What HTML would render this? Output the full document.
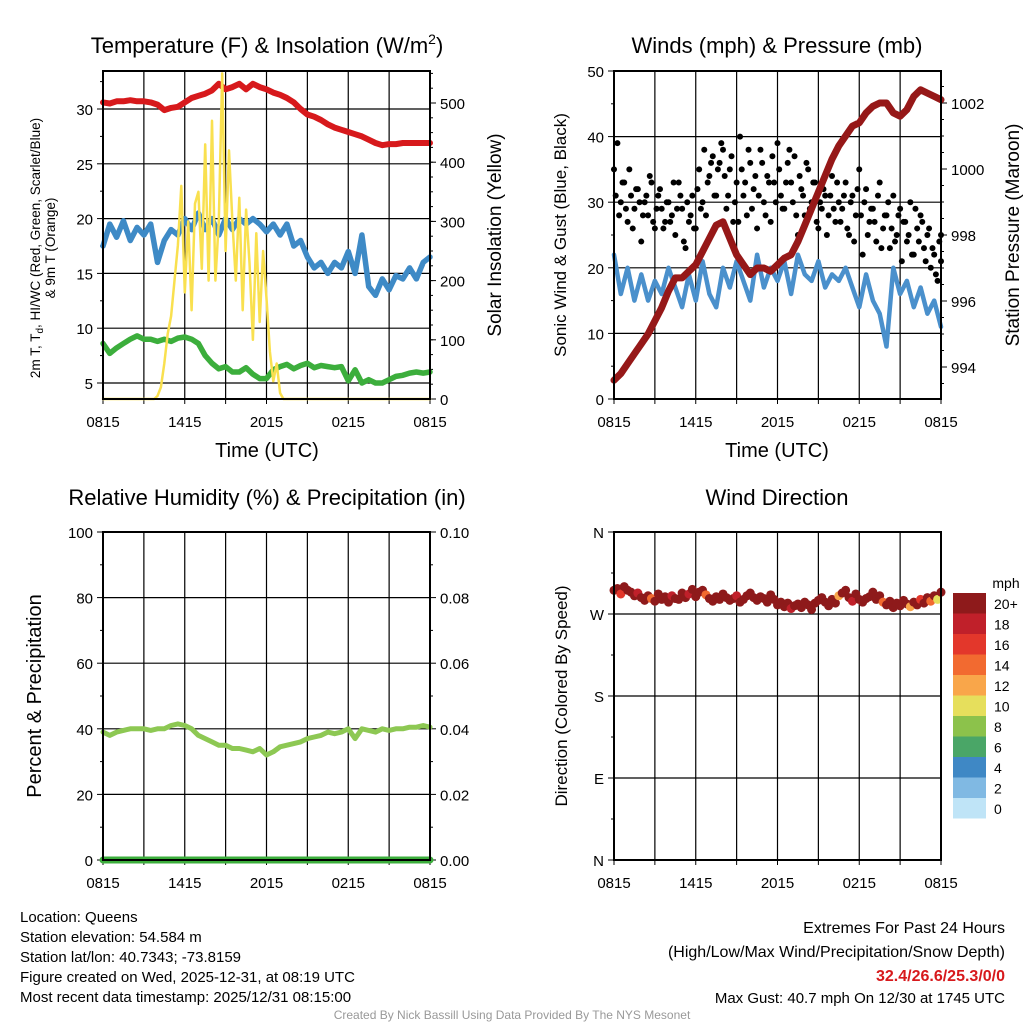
<!DOCTYPE html>
<html><head><meta charset="utf-8"><style>
html,body{margin:0;padding:0;background:#fff;}
svg{display:block;font-family:"Liberation Sans",Arial,sans-serif;}
</style></head><body>
<svg id="c" width="1024" height="1024" viewBox="0 0 1024 1024"></svg>
<script>
const xTickLabels=["0815","1415","2015","0215","0815"];
const tempRed=[30.6,30.5,30.7,30.7,30.8,30.7,30.7,30.6,30.4,29.9,30.1,30.2,30.6,31.0,31.2,31.4,31.7,32.3,31.8,32.0,32.3,31.8,32.3,32.0,31.8,31.5,31.3,31.0,30.6,30.0,29.5,29.3,29.0,28.6,28.3,28.1,27.9,27.7,27.5,27.2,26.9,26.7,26.8,26.8,26.9,26.9,26.9,26.9,26.9];
const hiwcBlue=[17.5,19.5,18.3,19.8,18.0,19.2,18.5,19.5,16.0,18.0,19.0,18.5,20.0,19.0,20.5,19.0,20.0,18.5,20.0,19.0,20.0,19.5,20.0,19.5,18.8,19.5,18.5,19.5,17.5,18.0,16.5,15.5,16.0,15.0,16.0,15.5,17.0,15.0,18.5,13.8,13.0,14.5,13.5,14.8,14.5,15.5,14.5,16.0,16.5];
const dewGreen=[8.6,7.7,8.2,8.6,9.0,9.3,9.0,9.0,8.8,9.0,8.8,9.1,9.2,9.0,8.6,7.5,6.8,6.3,6.5,6.0,6.0,6.4,5.8,5.4,5.4,6.2,6.5,6.7,6.3,6.6,6.8,6.4,6.6,6.5,6.4,6.5,5.2,6.2,5.0,5.3,5.0,5.0,5.3,5.6,5.7,5.9,6.0,5.9,6.0];
const solar=[0,0,0,0,0,0,0,0,0,0,0,0,0,0,0,0,5,20,60,110,140,200,260,360,180,300,150,330,350,220,430,200,470,200,300,550,250,420,300,200,340,150,320,230,100,280,130,250,170,80,30,60,10,0,0,0,0,0,0,0,0,0,0,0,0,0,0,0,0,0,0,0,0,0,0,0,0,0,0,0,0,0,0,0,0,0,0,0,0,0,0,0,0,0,0,0,0];
const windBlue=[22,16,20,15,19,15,18,16,20,17,14,19,15,21,16,14,20,17,21,18,15,22,17,20,18,21,16,22,19,18,21,17,19,18,20,17,14,19,15,13,8,20,16,18,14,17,13,15,11];
const gustA=[35,39,30,33,27,31,29,32,24,30,28,33,26,31,29,27,30,28,25,33,29,23,27,31,26,35,30,28,34,37,31,36,38,29,35,27,33,40,31,28,36,32,26,38,30,34,27,33,39,31,29,36,33,37,25,32,28,35,30,33,26,29,31,28,34,27,30,29,33,25,31,28,35,22,32,27,29,24,33,26,28,23,31,25,29,27,24,30,22,26,28,23,25,20,22,18,25];
const gustB=[31,28,33,29,35,26,32,30,28,31,34,27,29,32,26,30,27,33,29,31,24,30,28,26,32,29,38,33,36,31,35,39,34,31,37,30,27,35,33,38,29,34,31,36,28,33,37,30,35,29,33,38,30,28,34,31,36,29,33,27,30,32,25,31,29,33,27,31,26,30,24,32,28,30,25,29,27,31,23,28,30,26,24,28,21,27,25,22,29,24,27,21,26,23,19,24,21];
const pressure=[993.6,993.8,994.1,994.4,994.7,995.0,995.4,995.8,996.3,996.7,996.7,996.9,997.1,997.5,997.9,998.3,998.4,997.9,997.4,997.1,996.8,997.0,997.0,996.9,997.1,997.3,997.4,997.8,998.3,998.8,999.3,999.8,1000.3,1000.7,1001.0,1001.3,1001.4,1001.7,1001.9,1002.0,1002.0,1001.7,1001.6,1001.8,1002.2,1002.4,1002.3,1002.2,1002.1];
const rh=[39,38,39,39.5,40,40,40,39.5,40,40,41,41.5,41,40,38,37,36,35,35,34,34,33.5,33,34,32,33,34.5,35,35.5,36,37,37.5,38,39,38.5,39,40,37,40,39.5,39,40,39.5,40,40,40.5,40.5,41,40.5];
const precip=[0,0,0,0,0,0,0,0,0,0,0,0,0,0,0,0,0,0,0,0,0,0,0,0,0,0,0,0,0,0,0,0,0,0,0,0,0,0,0,0,0,0,0,0,0,0,0,0,0];
const windDir=[296,298,292,300,296,294,290,293,288,285,290,287,284,292,286,289,283,290,287,286,293,288,292,297,289,294,296,291,287,284,289,286,292,288,285,287,290,283,286,290,293,288,285,289,287,283,291,286,280,283,278,282,276,279,281,277,283,280,275,282,285,288,283,279,286,282,290,293,296,288,284,292,286,283,287,289,294,286,290,283,280,284,277,282,279,285,281,278,283,280,286,282,288,284,290,286,294];
const dirSpeed=[21,24,17,22,26,20,23,19,25,22,28,15,21,24,20,27,22,19,25,21,24,22,18,26,23,21,25,14,22,24,20,23,26,21,24,22,19,25,23,21,27,22,24,20,23,25,21,22,24,26,21,23,19,22,25,24,21,23,22,20,24,22,26,21,23,25,13,22,24,21,18,23,25,22,24,21,20,23,22,15,24,21,23,22,25,21,24,12,22,23,17,21,24,14,22,11,21];
const cbLabels=["20+","18","16","14","12","10","8","6","4","2","0"];
const cbColors=["#8e1a1b","#c0202a","#e3372b","#f26a30","#f9a64a","#e6df5c","#8cc24b","#4aa667","#3f88c5","#80b9e3","#bfe4f7"];

const NS="http://www.w3.org/2000/svg";
const svg=document.getElementById('c');
function el(tag,attrs,parent,text){const e=document.createElementNS(NS,tag);for(const k in attrs)e.setAttribute(k,attrs[k]);if(text!==undefined)e.textContent=text;(parent||svg).appendChild(e);return e;}
function txt(x,y,s,size,anchor,name,extra){const t=el('text',Object.assign({x:x,y:y,'font-size':size,'text-anchor':anchor||'middle',fill:'#000'},extra||{}),svg,s);

return t;}
function lin(d0,d1,p0,p1){return v=>p0+(v-d0)*(p1-p0)/(d1-d0);}

function panel(L,R,T,B,name){
  const g=el('g',{});
  
  
  const xs=lin(0,24,L,R);
  for(let h=3;h<24;h+=3){el('line',{x1:xs(h),x2:xs(h),y1:T,y2:B,stroke:'#000','stroke-width':1.2},g);}
  for(let h=0;h<=24;h+=3){el('line',{x1:xs(h),x2:xs(h),y1:B,y2:B+5,stroke:'#000','stroke-width':1},g);}
  for(let k=0;k<5;k++){txt(xs(k*6),B+28,xTickLabels[k],15,'middle','x-tick-label');}
  return {g,xs};
}
function frame(L,R,T,B){const r=el('rect',{x:L,y:T,width:R-L,height:B-T,fill:'none',stroke:'#000','stroke-width':2});

}
function yAxis(g,x,side,ys,ticks,minor,labels,fs){
  const dir=side==='left'?-1:1;
  minor.forEach(v=>el('line',{x1:x,x2:x+dir*3,y1:ys(v),y2:ys(v),stroke:'#000'},g));
  ticks.forEach((v,i)=>{el('line',{x1:x,x2:x+dir*6,y1:ys(v),y2:ys(v),stroke:'#000'},g);
    txt(x+dir*10,ys(v)+6,labels[i],fs||15,side==='left'?'end':'start','y-tick-label');});
}
function hgrid(g,L,R,ys,vals){vals.forEach(v=>el('line',{x1:L,x2:R,y1:ys(v),y2:ys(v),stroke:'#000','stroke-width':1.2},g));}
function path(g,arr,xs,ys,n,color,w,name){
  let d='';arr.forEach((v,i)=>{d+=(i?'L':'M')+xs(i*24/(n-1)).toFixed(1)+','+ys(v).toFixed(1);});
  const p=el('path',{d:d,fill:'none',stroke:color,'stroke-width':w,'stroke-linejoin':'round','stroke-linecap':'round'},g);
  
  
}

// Panel 1
{const L=103,R=430,T=71,B=399;const {g,xs}=panel(L,R,T,B,'temperature-panel');
 const ys=lin(5,30,383,109);const yr=lin(0,500,399,103);
 hgrid(g,L,R,ys,[5,10,15,20,25,30]);
 yAxis(g,L,'left',ys,[5,10,15,20,25,30],[7.5,12.5,17.5,22.5,27.5,32.5],["5","10","15","20","25","30"]);
 const rm=[];for(let v=25;v<=550;v+=25)rm.push(v);
 yAxis(g,R,'right',yr,[0,100,200,300,400,500],rm,["0","100","200","300","400","500"]);
 path(g,dewGreen,xs,ys,49,'#3cae3c',5.5,'dewpoint-line');
 path(g,hiwcBlue,xs,ys,49,'#3e8ac6',5.5,'heat-index-line');
 path(g,tempRed,xs,ys,49,'#d7191c',6,'temperature-line');
 path(g,solar,xs,yr,97,'#f9e04f',2.5,'solar-line');
 frame(L,R,T,B);
 txt(267,53,'',22,'middle','panel-title').innerHTML='Temperature (F) &amp; Insolation (W/m<tspan font-size="14" dy="-9">2</tspan><tspan dy="9">)</tspan>';
 txt(0,0,'',13.5,'middle','y-axis-title',{transform:'translate(40,248) rotate(-90)'}).innerHTML='2m T, T<tspan font-size="10" dy="3">d</tspan><tspan dy="-3">, HI/WC (Red, Green, Scarlet/Blue)</tspan>';
 txt(0,0,'& 9m T (Orange)',13.5,'middle','y-axis-title-line2',{transform:'translate(55,248) rotate(-90)'});
 txt(0,0,'Solar Insolation (Yellow)',19,'middle','y2-axis-title',{transform:'translate(501,235) rotate(-90)'});
 txt(267,457,'Time (UTC)',20,'middle','x-axis-title');
}
// Panel 2
{const L=614,R=941,T=71,B=399;const {g,xs}=panel(L,R,T,B,'winds-panel');
 const ys=lin(0,50,399,71);const yp=lin(994,1002,367,103);
 hgrid(g,L,R,ys,[10,20,30,40]);
 yAxis(g,L,'left',ys,[0,10,20,30,40,50],[5,15,25,35,45],["0","10","20","30","40","50"]);
 yAxis(g,R,'right',yp,[994,996,998,1000,1002],[993.5,994.5,995,995.5,996.5,997,997.5,998.5,999,999.5,1000.5,1001,1001.5,1002.5],["994","996","998","1000","1002"]);
 path(g,windBlue,xs,ys,49,'#4a90cc',4.5,'wind-line');
 [gustA,gustB].forEach((arr,k)=>arr.forEach((v,i)=>{const c=el('circle',{cx:xs(Math.min(24,(i+k*0.5)*24/96)),cy:ys(v),r:3,fill:'#000'},g);
  
  }));
 path(g,pressure,xs,yp,49,'#961818',7,'pressure-line');
 frame(L,R,T,B);
 txt(777,53,'Winds (mph) & Pressure (mb)',22,'middle','panel-title');
 txt(0,0,'Sonic Wind & Gust (Blue, Black)',17,'middle','y-axis-title',{transform:'translate(566,235) rotate(-90)'});
 txt(0,0,'Station Pressure (Maroon)',19,'middle','y2-axis-title',{transform:'translate(1019,235) rotate(-90)'});
 txt(777,457,'Time (UTC)',20,'middle','x-axis-title');
}
// Panel 3
{const L=103,R=430,T=532,B=860;const {g,xs}=panel(L,R,T,B,'humidity-panel');
 const ys=lin(0,100,860,532);const yr=lin(0,0.1,860,532);
 hgrid(g,L,R,ys,[20,40,60,80]);
 yAxis(g,L,'left',ys,[0,20,40,60,80,100],[10,30,50,70,90],["0","20","40","60","80","100"]);
 yAxis(g,R,'right',yr,[0,0.02,0.04,0.06,0.08,0.1],[0.01,0.03,0.05,0.07,0.09],["0.00","0.02","0.04","0.06","0.08","0.10"]);
 path(g,rh,xs,ys,49,'#8dc853',5,'humidity-line');
 path(g,precip,xs,yr,49,'#3cae3c',7,'precip-line');
 frame(L,R,T,B);
 txt(267,505,'Relative Humidity (%) & Precipitation (in)',22,'middle','panel-title');
 txt(0,0,'Percent & Precipitation',20,'middle','y-axis-title',{transform:'translate(41,696) rotate(-90)'});
}
// Panel 4
{const L=614,R=941,T=532,B=860;const {g,xs}=panel(L,R,T,B,'wind-direction-panel');
 const ys=lin(0,360,860,532);
 hgrid(g,L,R,ys,[90,180,270]);
 yAxis(g,L,'left',ys,[0,90,180,270,360],[45,135,225,315],["N","E","S","W","N"]);
 windDir.forEach((v,i)=>{const s=dirSpeed[i];let idx=10-Math.min(10,Math.floor(s/2));
  const c=el('circle',{cx:xs(i*24/96),cy:ys(v),r:4.5,fill:cbColors[idx]},g);
  
  });
 frame(L,R,T,B);
 txt(777,505,'Wind Direction',22,'middle','panel-title');
 txt(0,0,'Direction (Colored By Speed)',17,'middle','y-axis-title',{transform:'translate(567,696) rotate(-90)'});
 txt(1006,588,'mph',14,'middle','colorbar-title');
 cbColors.forEach((c,i)=>{const r=el('rect',{x:953,y:593+i*20.5,width:33,height:20.5,fill:c},svg);
  
  
  txt(994,609+i*20.5,cbLabels[i],14,'start','colorbar-label');});
}
// Footer text
const info=["Location: Queens","Station elevation: 54.584 m","Station lat/lon: 40.7343; -73.8159","Figure created on Wed, 2025-12-31, at 08:19 UTC","Most recent data timestamp: 2025/12/31 08:15:00"];
info.forEach((s,i)=>txt(20,922+i*20,s,15,'start','station-info'));
txt(1005,933,'Extremes For Past 24 Hours',16,'end','extremes-title');
txt(1005,957,'(High/Low/Max Wind/Precipitation/Snow Depth)',16,'end','extremes-subtitle');
txt(1005,981,'32.4/26.6/25.3/0/0',16,'end','extremes-values',{fill:'#d7191c','font-weight':'bold'});
txt(1005,1003,'Max Gust: 40.7 mph On 12/30 at 1745 UTC',15,'end','max-gust');
txt(512,1019,'Created By Nick Bassill Using Data Provided By The NYS Mesonet',12,'middle','credit',{fill:'#999'});
</script>
</body></html>
